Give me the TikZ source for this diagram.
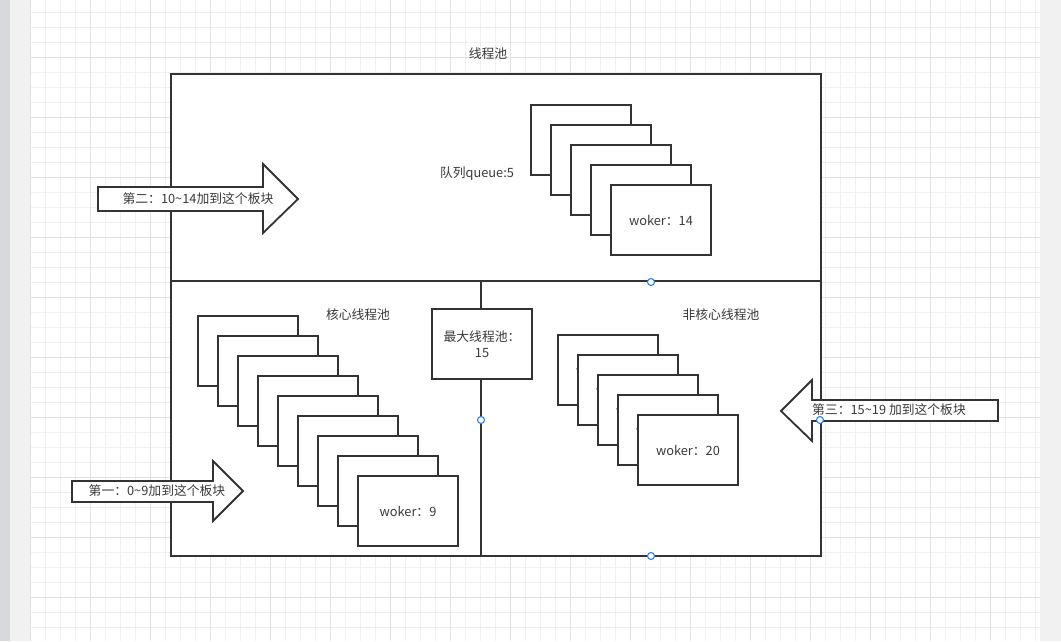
\documentclass[tikz,border=0pt]{standalone}
\usepackage{fontspec}
\newfontfamily\cjk{Noto Sans CJK SC}
\definecolor{ln}{HTML}{333333}
\definecolor{txt}{HTML}{3A3A3A}
\definecolor{gminor}{HTML}{EFEFEF}
\definecolor{gmajor}{HTML}{E2E2E2}
\definecolor{side}{HTML}{F1F1F1}
\definecolor{strip}{HTML}{D7D9DD}
\definecolor{handle}{HTML}{2A7FF0}
\tikzset{
  frame/.style={draw=ln, line width=2pt, fill=white, inner sep=0pt, outer sep=0pt, anchor=north west},
  wk/.style={draw=ln, line width=2pt, fill=white, inner sep=0pt, outer sep=0pt, minimum width=100pt, minimum height=70pt, anchor=north west, text=txt},
  lbl/.style={text=txt, inner sep=0pt},
  bigarrow/.style={draw=ln, line width=1.8pt, fill=white, line join=miter},
  hdl/.style={draw=handle, line width=1.1pt, fill=white, circle, inner sep=0pt, minimum size=7pt},
}
\begin{document}
\begin{tikzpicture}[x=1pt,y=-1pt, font=\cjk\fontsize{12.8}{16}\selectfont]
\useasboundingbox (0,0) rectangle (1061,641);
% background
\fill[white] (0,0) rectangle (1061,641);
\fill[strip] (0,0) rectangle (10,641);
\fill[side] (10,0) rectangle (30,641);
\fill[side] (1040,0) rectangle (1061,641);
\foreach \x in {30,45,...,1035} \draw[gminor, line width=1pt] (\x,0) -- (\x,641);
\foreach \y in {12,27,...,627} \draw[gminor, line width=1pt] (30,\y) -- (1040,\y);
\foreach \x in {30,90,...,990} \draw[gmajor, line width=1pt] (\x,0) -- (\x,641);
\foreach \y in {57,117,...,597} \draw[gmajor, line width=1pt] (30,\y) -- (1040,\y);

% main frames
\node[frame, minimum width=650pt, minimum height=207pt] (top) at (171,74) {};
\node[frame, minimum width=650pt, minimum height=275pt] (bot) at (171,281) {};

% labels
\node[lbl] (title) at (488,54) {线程池};
\node[lbl] (qlabel) at (477,174) {队列queue:5};
\node[lbl] (corelabel) at (358,315) {核心线程池};
\node[lbl] (noncorelabel) at (721,315) {非核心线程池};

% max pool box and divider
\node[wk, anchor=center, align=center] (maxb) at (482,344) {最大线程池：\\15};
\draw[ln, line width=2pt] (maxb.north -| 481,0) -- (481,281);
\draw[ln, line width=2pt] (maxb.south -| 481,0) -- (481,556);

% queue stack
\foreach \i in {0,...,3} \node[wk] (q\i) at ({531+20*\i},{105+20*\i}) {};
\node[wk] (q4) at (611,185) {};
\node[lbl] (q4t) at (q4.center) {woker：14};

% core stack
\foreach \i in {0,...,7} \node[wk] (c\i) at ({198+20*\i},{316+20*\i}) {};
\node[wk] (c8) at (358,476) {};
\node[lbl] (c8t) at (c8.center) {woker：9};

% non-core stack
\foreach \i/\n in {0/16,1/17,2/18,3/19} {
  \node[wk] (n\i) at ({558+20*\i},{335+20*\i}) {};
  \node[lbl] (n\i t) at (n\i.center) {woker：\n};
}
\node[wk] (n4) at (638,415) {};
\node[lbl] (n4t) at (n4.center) {woker：20};

% arrows
\draw[bigarrow] (98,187) -- (263,187) -- (263,164) -- (298,199) -- (263,233) -- (263,211) -- (98,211) -- cycle;
\node[lbl] (a2) at (198,199) {第二：10\textasciitilde 14加到这个板块};

\draw[bigarrow] (72,481) -- (213,481) -- (213,461) -- (243,491) -- (213,521) -- (213,502) -- (72,502) -- cycle;
\node[lbl] (a1) at (157,491) {第一：0\textasciitilde 9加到这个板块};

\draw[bigarrow] (998,400) -- (812,400) -- (812,380) -- (781,411) -- (812,441) -- (812,421) -- (998,421) -- cycle;
\node[lbl] (a3) at (889,410) {第三：15\textasciitilde 19 加到这个板块};

% handles
\node[hdl] (h1) at (651,282) {};
\node[hdl] (h2) at (481,420) {};
\node[hdl] (h3) at (651,556) {};
\node[hdl] (h4) at (820,420) {};
\end{tikzpicture}
\end{document}
